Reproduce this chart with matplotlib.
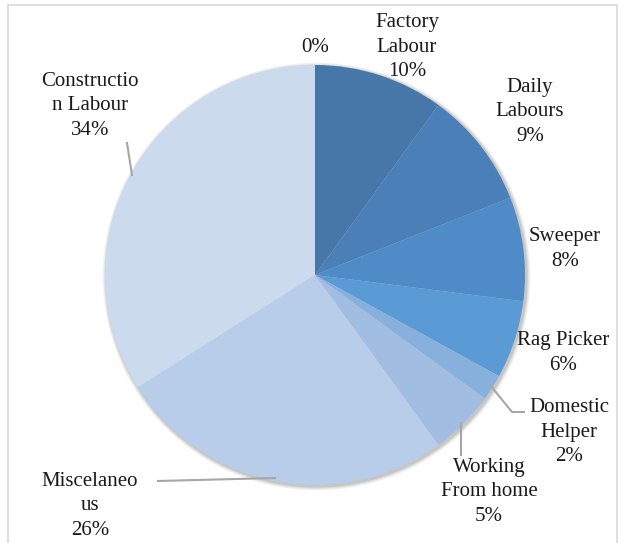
import matplotlib.pyplot as plt
from matplotlib.patches import Rectangle, Circle

labels = ['', 'Factory\nLabour', 'Daily\nLabours', 'Sweeper', 'Rag Picker',
          'Domestic\nHelper', 'Working\nFrom home', 'Miscelaneo\nus', 'Constructio\nn Labour']
values = [0, 10, 9, 8, 6, 2, 5, 26, 34]
colors = ['#3f6e9f', '#4677a8', '#4a7fb8', '#4f8bc6', '#5b9bd5',
          '#88b0dd', '#a2bde2', '#b8cde9', '#ccdaee']

# label text positions (pixel coords, y from top)
label_pos = [(315, 47), (407, 47), (530, 112), (565, 249), (563, 353),
             (569, 432), (489, 492), (90, 506), (90, 106)]

W, H = 618, 543
cx, cy, r = 315, H - 275, 210

fig = plt.figure(figsize=(W / 100, H / 100), dpi=100)
ax = fig.add_axes([0, 0, 1, 1])

ax.add_patch(Rectangle((8, -10), 609, H - 5 + 10, fill=False,
                       edgecolor='#d9d9d9', linewidth=1.2))

# soft shadow behind the pie
for i, a in enumerate([0.06, 0.08, 0.10, 0.14]):
    ax.add_patch(Circle((cx + 1.5, cy - 1.5), r + 4 - i, facecolor='#555555',
                        edgecolor='none', alpha=a, zorder=0.5))

ax.pie([v if v > 0 else 1e-9 for v in values], colors=colors, startangle=90,
       counterclock=False, center=(cx, cy), radius=r, frame=True,
       wedgeprops=dict(linewidth=0))
ax.set_xlim(0, W)
ax.set_ylim(0, H)
ax.set_aspect('equal')
ax.axis('off')

for lab, v, (x, y) in zip(labels, values, label_pos):
    txt = f'{lab}\n{v}%' if lab else f'{v}%'
    ax.text(x, H - y, txt, ha='center', va='center', fontsize=15,
            family='Liberation Serif', color='#1a1a1a', linespacing=1.42)

# leader lines
lc = '#a6a6a6'
ax.plot([490, 512, 524], [H - 385, H - 412, H - 412], color=lc, lw=1.5)
ax.plot([461, 461], [H - 423, H - 455], color=lc, lw=1.5)
ax.plot([158, 275], [H - 481, H - 478], color=lc, lw=1.5)
ax.plot([127, 132], [H - 143, H - 175], color=lc, lw=1.5)

fig.savefig('out.png', dpi=100)
